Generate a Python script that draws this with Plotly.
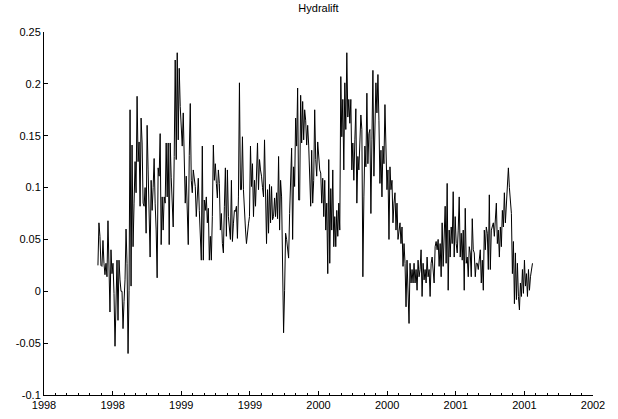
import numpy as np
import plotly.graph_objects as go

# ---- data ----
chart_title = "Hydralift"
x_start = 1998.393   # first observation (decimal year)
x_end = 2001.559     # last observation (decimal year)

values = [
    # mid 1998
    0.025, 0.066, 0.053, 0.025, 0.024, 0.049, 0.027, 0.016, 0.027, 0.014,
    0.068, 0.016, -0.020, 0.040, 0.017, 0.027, -0.002, -0.053, -0.012, 0.030,
    -0.028, 0.030, 0.011, 0.000, 0.000, -0.036, -0.010, 0.011, 0.060, 0.027,
    -0.060, 0.001, 0.175, 0.005, 0.141, 0.043, 0.085, 0.125, 0.095, 0.188,
    0.125, 0.144, 0.082, 0.167, 0.143, 0.085, 0.082, 0.100, 0.056, 0.160,
    0.117, 0.070, 0.033, 0.107, 0.078, 0.100, 0.128, 0.085, 0.060, 0.013,
    0.119,
    # late 1998 / early 1999
    0.111, 0.152, 0.045, 0.091, 0.059, 0.091, 0.085, 0.143, 0.091, 0.143,
    0.045, 0.143, 0.110, 0.091, 0.062, 0.130, 0.223, 0.127, 0.230, 0.146,
    0.215, 0.178, 0.150, 0.140, 0.172, 0.120, 0.085, 0.111, 0.078, 0.045,
    0.131, 0.181, 0.107, 0.095, 0.117, 0.111, 0.101, 0.072, 0.095, 0.109,
    0.078, 0.055, 0.030, 0.140, 0.030, 0.088, 0.078, 0.091, 0.066, 0.080,
    0.030, 0.053, 0.030, 0.072, 0.141, 0.107, 0.123, 0.104, 0.090, 0.117,
    0.104, 0.059, 0.075, 0.046, 0.037, 0.082, 0.119, 0.053, 0.117, 0.072,
    # 1999
    0.059, 0.050, 0.107, 0.048, 0.065, 0.078, 0.077, 0.082, 0.051, 0.091,
    0.201, 0.098, 0.098, 0.149, 0.098, 0.072, 0.060, 0.046, 0.059, 0.065,
    0.072, 0.140, 0.101, 0.123, 0.072, 0.107, 0.082, 0.123, 0.143, 0.098,
    0.127, 0.117, 0.111, 0.100, 0.091, 0.146, 0.085, 0.046, 0.098, 0.056,
    0.103, 0.066, 0.101, 0.069, 0.072, 0.090, 0.072, 0.095, 0.070, 0.130,
    0.059, 0.107, 0.091, 0.027, -0.040, 0.001, 0.056, 0.050, 0.040, 0.032,
    0.075, 0.100, 0.138, 0.050, 0.120, 0.101, 0.167, 0.140, 0.196, 0.088,
    # late 1999 / early 2000
    0.088, 0.189, 0.143, 0.183, 0.146, 0.175, 0.165, 0.141, 0.160, 0.141,
    0.114, 0.082, 0.136, 0.085, 0.107, 0.175, 0.127, 0.111, 0.144, 0.123,
    0.117, 0.114, 0.085, 0.109, 0.072, 0.107, 0.059, 0.085, 0.017, 0.127,
    0.027, 0.099, 0.059, 0.117, 0.043, 0.072, 0.043, 0.078, 0.053, 0.085,
    0.059, 0.207, 0.149, 0.185, 0.117, 0.201, 0.156, 0.230, 0.168, 0.185,
    0.162, 0.185, 0.117, 0.143, 0.107, 0.146, 0.176, 0.085, 0.130, 0.117,
    0.149, 0.170, 0.156, 0.014, 0.091, 0.140, 0.120, 0.191, 0.123, 0.152,
    # 2000
    0.156, 0.075, 0.146, 0.213, 0.111, 0.165, 0.201, 0.172, 0.209, 0.165,
    0.104, 0.136, 0.091, 0.140, 0.123, 0.180, 0.120, 0.098, 0.117, 0.050,
    0.120, 0.098, 0.107, 0.066, 0.085, 0.095, 0.059, 0.085, 0.050, 0.059,
    0.066, 0.046, 0.062, 0.024, 0.046, 0.027, -0.015, 0.030, 0.001, -0.031,
    0.027, 0.008, 0.021, 0.008, 0.027, 0.008, 0.021, 0.001, 0.030, 0.014,
    0.021, 0.040, -0.005, 0.027, 0.011, 0.021, 0.008, 0.033, 0.014, 0.021,
    -0.005, 0.027, 0.033, 0.021, 0.008, 0.043, 0.048, 0.040, 0.050, 0.024,
    # late 2000 / 2001
    0.046, 0.014, 0.066, 0.024, 0.046, 0.082, 0.027, 0.104, 0.001, 0.059,
    0.033, 0.062, 0.046, 0.096, 0.033, 0.072, 0.046, 0.037, 0.059, 0.091,
    0.033, 0.056, 0.030, 0.059, 0.001, 0.080, 0.027, 0.033, 0.014, 0.043,
    0.037, 0.014, 0.070, 0.040, 0.037, 0.014, 0.027, 0.027, 0.021, 0.033,
    0.040, 0.008, 0.030, 0.001, 0.059, 0.040, 0.062, 0.056, 0.021, 0.093,
    0.021, 0.059, 0.062, 0.066, 0.053, 0.072, 0.085, 0.046, 0.059, 0.033,
    0.062, 0.043, 0.078, 0.062, 0.095, 0.066, 0.082, 0.098, 0.119, 0.100,
    0.085, 0.075, 0.017, 0.048, -0.012, 0.037, -0.008, 0.027, -0.005, -0.018,
    0.008, -0.005, 0.021, -0.002, 0.030, 0.005, 0.017, -0.005, 0.021, 0.001,
    0.014, 0.024, 0.027,
]

x_tickvals = [1998, 1998.5, 1999, 1999.5, 2000, 2000.5, 2001, 2001.5, 2002]
x_ticktext = ["1998", "1998", "1999", "1999", "2000", "2000", "2001", "2001", "2002"]
y_tickvals = [-0.1, -0.05, 0, 0.05, 0.1, 0.15, 0.2, 0.25]
y_ticktext = ["-0.1", "-0.05", "0", "0.05", "0.1", "0.15", "0.2", "0.25"]

x = np.linspace(x_start, x_end, len(values))

fig = go.Figure(
    go.Scatter(x=x, y=values, mode="lines",
               line=dict(color="black", width=1), hoverinfo="skip")
)

font_family = "Liberation Sans, Arial, sans-serif"
fig.update_layout(
    width=618, height=419,
    margin=dict(l=44, r=25, t=32, b=24, autoexpand=False),
    paper_bgcolor="white", plot_bgcolor="white",
    showlegend=False,
    font=dict(family=font_family, size=11, color="black"),
    title=dict(text=chart_title, x=0.5, xref="paper", xanchor="center",
               y=1 - 8 / 419, yref="container", yanchor="middle",
               font=dict(family=font_family, size=11, color="black")),
)
fig.update_xaxes(
    range=[1998, 2002], showgrid=False, zeroline=False, automargin=False,
    showline=True, linecolor="black", linewidth=1, mirror=False,
    ticks="inside", ticklen=4, tickcolor="black", tickwidth=1,
    tickmode="array", tickvals=x_tickvals, ticktext=x_ticktext,
    minor=dict(ticks="inside", ticklen=2, tickcolor="black",
               tick0=1998, dtick=1 / 12, showgrid=False),
)
fig.update_yaxes(
    range=[-0.1, 0.25], showgrid=False, zeroline=False, automargin=False,
    showline=True, linecolor="black", linewidth=1, mirror=False,
    ticks="inside", ticklen=4, tickcolor="black", tickwidth=1,
    tickmode="array", tickvals=y_tickvals, ticktext=y_ticktext,
)

fig.write_html(
    "out.html",
    config={"displayModeBar": False},
    post_script="document.body.style.margin='0';document.body.style.padding='0';"
                "document.body.style.overflow='hidden';",
)
